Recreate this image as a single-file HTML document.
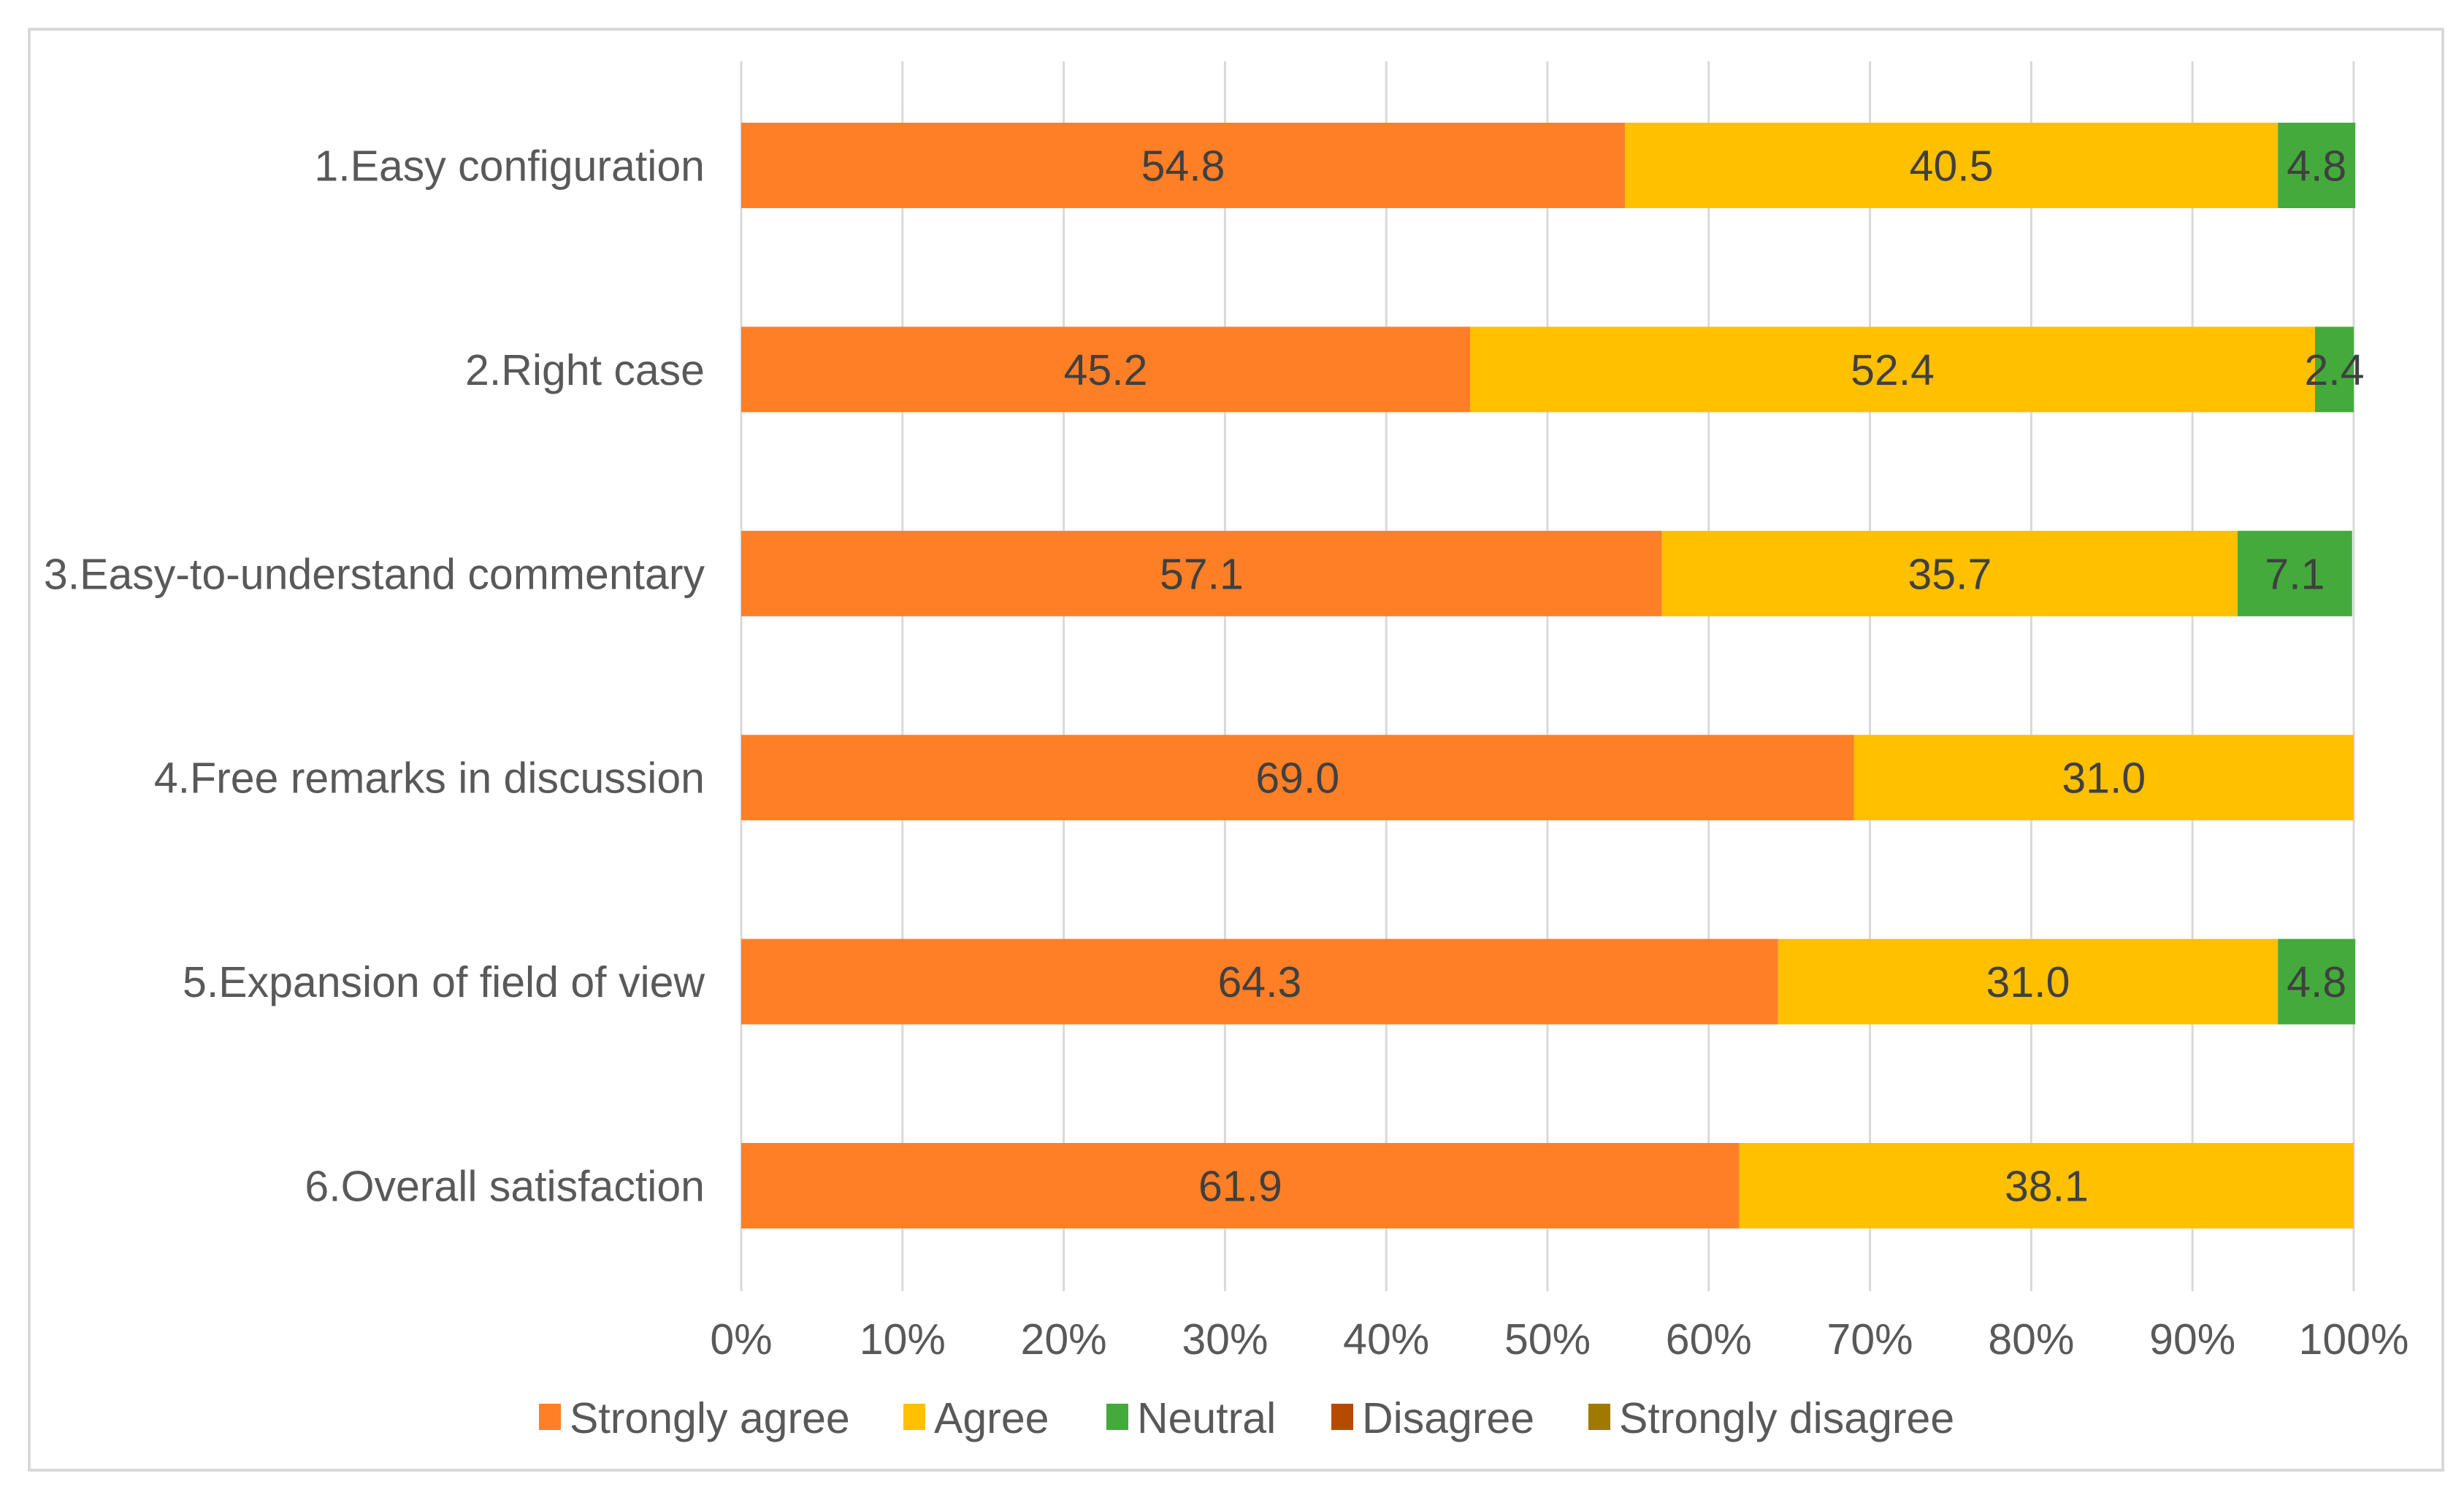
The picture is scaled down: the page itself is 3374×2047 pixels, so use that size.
<!DOCTYPE html>
<html><head><meta charset="utf-8"><style>
html,body{margin:0;padding:0;background:#fff;}
svg{display:block;font-family:"Liberation Sans",Arial,sans-serif;}
</style></head><body>
<svg id="chart" width="3374" height="2047" viewBox="0 0 3374 2047" xmlns="http://www.w3.org/2000/svg">
<rect x="40" y="40" width="3305" height="1973" fill="#fff" stroke="#d9d9d9" stroke-width="4"/>
<g id="grid"></g><g id="bars"></g><g id="labels"></g><g id="legend"></g>
</svg>
<script>
const categories = ["1.Easy configuration","2.Right case","3.Easy-to-understand commentary","4.Free remarks in discussion","5.Expansion of field of view","6.Overall satisfaction"];
const stronglyAgree = [54.8,45.2,57.1,69.0,64.3,61.9];
const agree = [40.5,52.4,35.7,31.0,31.0,38.1];
const neutral = [4.8,2.4,7.1,0,4.8,0];
const disagree = [0,0,0,0,0,0];
const stronglyDisagree = [0,0,0,0,0,0];
const seriesNames = ["Strongly agree","Agree","Neutral","Disagree","Strongly disagree"];
const tickLabels = ["0%","10%","20%","30%","40%","50%","60%","70%","80%","90%","100%"];

const NS="http://www.w3.org/2000/svg";
const colors=["#FF7F27","#FFC000","#44AA3C","#B84A00","#A07A00"];
const x0=1015, pw=2208, yTop=168, pitch=279.4, bh=117, fs=59;
function xs(p){return x0+p/100*pw;}
function yb(i){return yTop+i*pitch;}
function mk(tag,attrs,parent){const e=document.createElementNS(NS,tag);for(const k in attrs)e.setAttribute(k,attrs[k]);parent.appendChild(e);return e;}
const grid=document.getElementById('grid'),bars=document.getElementById('bars'),labels=document.getElementById('labels'),legend=document.getElementById('legend');
tickLabels.forEach((t,i)=>{
  const x=xs(i*10);
  const l=mk('line',{x1:x,x2:x,y1:84,y2:1768,stroke:"#d9d9d9","stroke-width":3},grid);
  
  
  const tx=mk('text',{x:x,y:1854,"text-anchor":"middle","font-size":fs,fill:"#595959"},labels);
  tx.textContent=t;
  
  
});
const series=[stronglyAgree,agree,neutral,disagree,stronglyDisagree];
categories.forEach((c,i)=>{
  const y=yb(i);
  const ct=mk('text',{x:965,y:y+bh/2+21,"text-anchor":"end","font-size":fs,fill:"#595959"},labels);
  ct.textContent=c;
  
  
  let acc=0;
  series.forEach((s,k)=>{
    const v=s[i]; if(!v) return;
    const r=mk('rect',{x:xs(acc),y:y,width:xs(acc+v)-xs(acc),height:bh,fill:colors[k]},bars);
    
    
    const t=mk('text',{x:(xs(acc)+xs(acc+v))/2,y:y+bh/2+21,"text-anchor":"middle","font-size":fs,fill:"#404040"},labels);
    t.textContent=v.toFixed(1);
    
    
    acc+=v;
  });
});
const lx=[738,1237,1515,1823,2175];
seriesNames.forEach((n,k)=>{
  const sq=mk('rect',{x:lx[k],y:1922,width:30,height:36,fill:colors[k]},legend);
  
  
  const t=mk('text',{x:lx[k]+42,y:1962,"font-size":fs,fill:"#595959"},legend);
  t.textContent=n;
  
  
});
</script>
</body></html>
